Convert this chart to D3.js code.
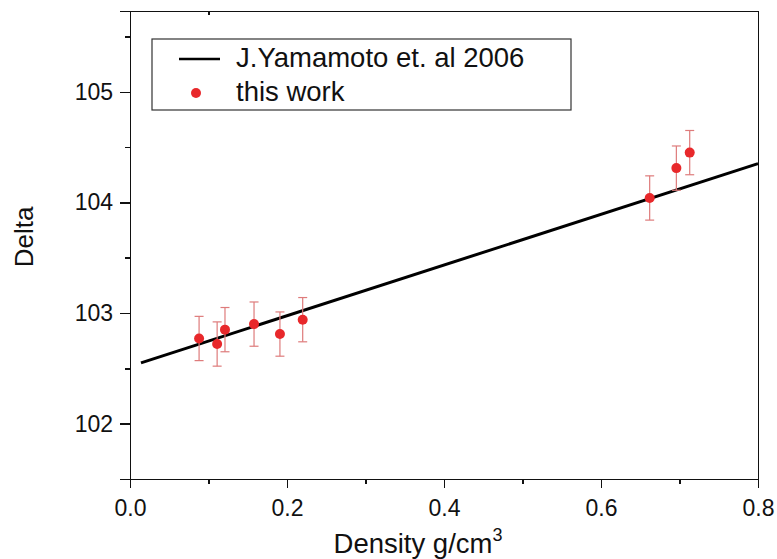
<!DOCTYPE html>
<head>
<meta charset="utf-8">
<title>Delta vs Density</title>
<script type="text/javascript" src="https://d3js.org/d3.v7.min.js"></script>
<style>
body { margin: 0; background: #fff; }
svg text { font-family: "Liberation Sans", Arial, sans-serif; fill: #111; }
.axis path, .axis line { stroke: #111; stroke-width: 1.5; shape-rendering: crispEdges; }
.axis text { font-size: 23px; }
.fit { fill: none; stroke: #000; stroke-width: 3; }
.err { stroke: #de7b7b; stroke-width: 1.2; }
.dot { fill: #e8282b; }
</style>
</head>
<body>
<div id="container"></div>
<script>
//---------------------------DATA-------------------------------//
const densityPts = [0.088, 0.111, 0.121, 0.158, 0.191, 0.220, 0.662, 0.696, 0.713];
const deltaPts   = [102.77, 102.72, 102.85, 102.90, 102.81, 102.94, 104.04, 104.31, 104.45];
const deltaErr   = [0.2, 0.2, 0.2, 0.2, 0.2, 0.2, 0.2, 0.2, 0.2];
const lineDensity = [0.014, 0.8];
const lineDelta   = [102.55, 104.35];
const xTicks = [0.0, 0.2, 0.4, 0.6, 0.8];
const yTicks = [102, 103, 104, 105];
const seriesNames = ["J.Yamamoto et. al 2006", "this work"];

//---------------------------SVG--------------------------------//
const width = 777, height = 559;
const pLeft = 130, pRight = 758, pTop = 11, pBottom = 479;

const svg = d3.select("#container").append("svg")
    .attr("width", width)
    .attr("height", height);

//--------------------------SCALES------------------------------//
const x = d3.scaleLinear().domain([0, 0.8]).range([pLeft, pRight]);
const y = d3.scaleLinear().domain([101.5, 105.73]).range([pBottom, pTop]);

//---------------------------AXES-------------------------------//
const xMinor = d3.range(0.1, 0.8, 0.2);
const yMinor = d3.range(101.5, 105.6, 1);

svg.append("g").attr("class", "axis")
    .attr("transform", "translate(0," + pBottom + ")")
    .call(d3.axisBottom(x).tickValues(xMinor).tickSize(5).tickFormat(""));
svg.append("g").attr("class", "axis")
    .attr("transform", "translate(0," + pBottom + ")")
    .call(d3.axisBottom(x).tickValues(xTicks).tickSize(9).tickPadding(6)
        .tickFormat(d3.format(".1f")))
    .selectAll("text").attr("dy", "0.95em");

svg.append("g").attr("class", "axis")
    .attr("transform", "translate(" + pLeft + ",0)")
    .call(d3.axisLeft(y).tickValues(yMinor).tickSize(5).tickFormat(""));
svg.append("g").attr("class", "axis")
    .attr("transform", "translate(" + pLeft + ",0)")
    .call(d3.axisLeft(y).tickValues(yTicks).tickSize(10).tickPadding(7)
        .tickFormat(d3.format("d")));

// top and right frame
svg.append("g").attr("class", "axis")
    .attr("transform", "translate(0," + pTop + ")")
    .call(d3.axisTop(x).tickValues([0.1]).tickSize(-4).tickFormat(""));
svg.append("g").attr("class", "axis")
    .attr("transform", "translate(" + pRight + ",0)")
    .call(d3.axisRight(y).tickValues([]).tickSizeOuter(0));

// titles
svg.append("text")
    .attr("transform", "translate(33," + 237 + ") rotate(-90)")
    .attr("text-anchor", "middle")
    .style("font-size", "26px")
    .text("Delta");

const xt = svg.append("text")
    .attr("x", 418)
    .attr("y", 553)
    .attr("text-anchor", "middle")
    .style("font-size", "27.5px");
xt.append("tspan").text("Density g/cm");
xt.append("tspan").attr("dy", -12).style("font-size", "18px").text("3");

//---------------------------LINE-------------------------------//
const lineData = lineDensity.map((d, i) => ({x: d, y: lineDelta[i]}));
svg.append("path")
    .datum(lineData)
    .attr("class", "fit")
    .attr("d", d3.line().x(d => x(d.x)).y(d => y(d.y)));

//--------------------------POINTS------------------------------//
const pts = densityPts.map((d, i) => ({x: d, y: deltaPts[i], e: deltaErr[i]}));
const g = svg.append("g").selectAll("g").data(pts).enter().append("g");
g.append("line").attr("class", "err")
    .attr("x1", d => x(d.x)).attr("x2", d => x(d.x))
    .attr("y1", d => y(d.y + d.e)).attr("y2", d => y(d.y - d.e));
g.append("line").attr("class", "err")
    .attr("x1", d => x(d.x) - 4.5).attr("x2", d => x(d.x) + 4.5)
    .attr("y1", d => y(d.y + d.e)).attr("y2", d => y(d.y + d.e));
g.append("line").attr("class", "err")
    .attr("x1", d => x(d.x) - 4.5).attr("x2", d => x(d.x) + 4.5)
    .attr("y1", d => y(d.y - d.e)).attr("y2", d => y(d.y - d.e));
g.append("circle").attr("class", "dot")
    .attr("cx", d => x(d.x)).attr("cy", d => y(d.y)).attr("r", 5);

//--------------------------LEGEND------------------------------//
const lg = svg.append("g").attr("transform", "translate(152,39)");
lg.append("rect")
    .attr("width", 419).attr("height", 71)
    .attr("fill", "#fff").attr("stroke", "#333").attr("stroke-width", 1.2);
lg.append("line")
    .attr("x1", 27).attr("x2", 68).attr("y1", 20).attr("y2", 20)
    .attr("stroke", "#000").attr("stroke-width", 2.5);
lg.append("circle").attr("class", "dot").attr("cx", 44).attr("cy", 54).attr("r", 5);
lg.selectAll("text.lbl").data(seriesNames).enter().append("text")
    .attr("class", "lbl")
    .attr("x", 84)
    .attr("y", (d, i) => 28 + i * 34)
    .style("font-size", "27.5px")
    .text(d => d);
</script>
</body>
